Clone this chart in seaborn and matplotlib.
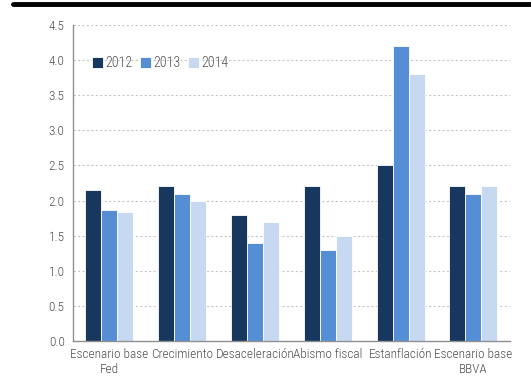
import pandas as pd
import seaborn as sns
import matplotlib
matplotlib.use("Agg")
import matplotlib.pyplot as plt
from matplotlib.lines import Line2D
from matplotlib import font_manager
import numpy as np

escenarios = ["Escenario base\nFed", "Crecimiento", "Desaceleración",
              "Abismo fiscal", "Estanflación", "Escenario base\nBBVA"]
anios = ["2012", "2013", "2014"]
v2012 = [2.15, 2.2, 1.8, 2.2, 2.5, 2.2]
v2013 = [1.87, 2.1, 1.4, 1.3, 4.2, 2.1]
v2014 = [1.83, 2.0, 1.7, 1.5, 3.8, 2.2]
colores = ["#17375E", "#558ED5", "#C6D9F1"]

df = pd.DataFrame({
    "escenario": escenarios * 3,
    "anio": [a for a in anios for _ in escenarios],
    "valor": v2012 + v2013 + v2014,
})

sns.set_style("white")
nombres = {f.name for f in font_manager.fontManager.ttflist}
fam = [f for f in ["Liberation Sans Narrow", "DejaVu Sans Condensed", "Roboto Condensed"]
       if f in nombres] + ["DejaVu Sans"]
plt.rcParams["font.family"] = fam
plt.rcParams["font.weight"] = "light"
gris = "#505050"
fs = 9.5 if fam[0] != "DejaVu Sans" else 8.5

fig = plt.figure(figsize=(5.31, 3.90), dpi=100)
ax = fig.add_axes([0.1375, 0.1256, 0.8225, 0.8104])

sns.barplot(data=df, x="escenario", y="valor", hue="anio", palette=colores,
            width=0.66, gap=0, edgecolor="white", linewidth=0.6, ax=ax,
            saturation=1)

ax.set_ylim(0, 4.5)
ax.set_xlim(-0.5, 5.5)
ax.set_yticks(np.arange(0, 4.51, 0.5))
ax.set_yticklabels([f"{t:.1f}" for t in np.arange(0, 4.51, 0.5)])
ax.set_xlabel("")
ax.set_ylabel("")

ax.yaxis.grid(True, linestyle=(0, (2, 2)), color="#c8c8c8", linewidth=0.8)
ax.set_axisbelow(True)

for s in ["top", "right"]:
    ax.spines[s].set_visible(False)
for s in ["left", "bottom"]:
    ax.spines[s].set_color("#909090")
    ax.spines[s].set_linewidth(1.0)

ax.tick_params(axis="x", which="major", length=0, labelsize=fs,
               labelcolor=gris, pad=5)
ax.set_xticks(np.arange(-0.5, 5.6, 1), minor=True)
ax.tick_params(axis="x", which="minor", length=4, color="#909090", direction="out")
ax.tick_params(axis="y", length=3, color="#909090", labelsize=fs,
               labelcolor=gris, pad=3)

leg = ax.legend(loc="upper left", bbox_to_anchor=(0.03, 0.918), ncol=3,
                frameon=False, fontsize=fs + 0.5, handlelength=0.8,
                handleheight=0.8, handletextpad=0.2, columnspacing=0.5,
                borderaxespad=0)
for t in leg.get_texts():
    t.set_color(gris)

fig.add_artist(Line2D([13 / 531, 1.0], [1 - 4 / 390, 1 - 4 / 390],
                      color="black", linewidth=3.5))

fig.savefig("out.png", dpi=100)
